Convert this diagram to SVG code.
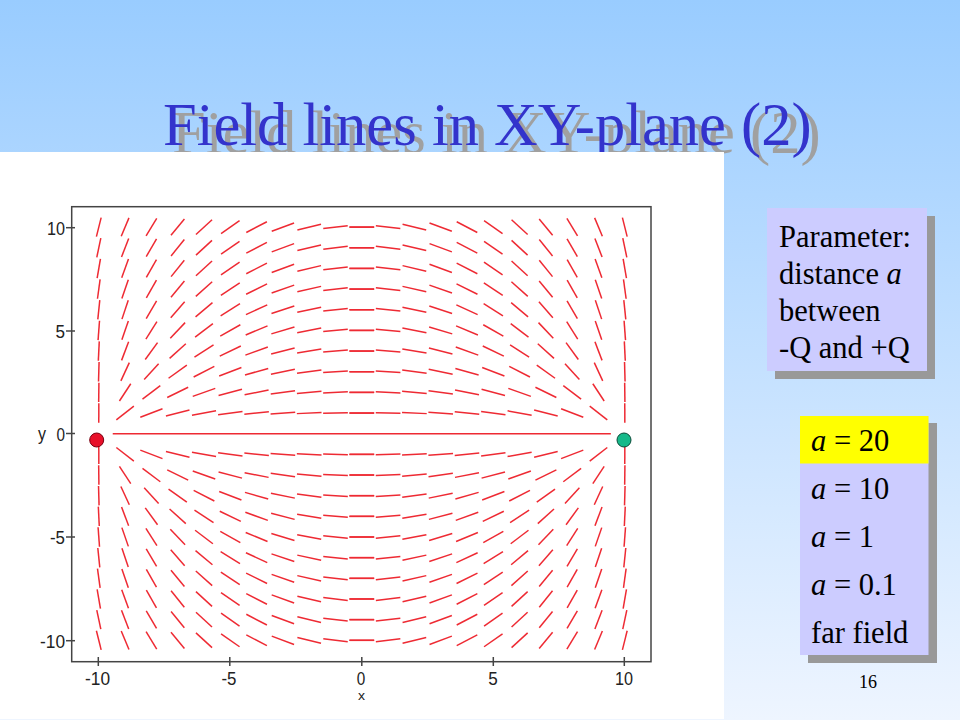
<svg xmlns="http://www.w3.org/2000/svg" xmlns:xlink="http://www.w3.org/1999/xlink" width="960" height="720" viewBox="0 0 960 720">
<style>
.s{stroke:#ee2a33;stroke-width:1.5;fill:none;vector-effect:non-scaling-stroke}
.tl{font-family:"Liberation Sans",Arial,sans-serif;font-size:19px;fill:#222}
.ser{font-family:"Liberation Serif","Times New Roman",serif;fill:#000}
.ax{stroke:#444;stroke-width:1.5;fill:none}
</style>
<defs>
<linearGradient id="bg" x1="0" y1="0" x2="0" y2="1">
<stop offset="0" stop-color="#99ccff"/>
<stop offset="1" stop-color="#eef5ff"/>
</linearGradient>
<line id="s" class="s" x1="-0.47" y1="0" x2="0.47" y2="0"/>
<g id="Q">
<use href="#s" transform="translate(0 1)"/><use href="#s" transform="translate(0 2)"/><use href="#s" transform="translate(0 3)"/><use href="#s" transform="translate(0 4)"/><use href="#s" transform="translate(0 5)"/><use href="#s" transform="translate(0 6)"/><use href="#s" transform="translate(0 7)"/><use href="#s" transform="translate(0 8)"/><use href="#s" transform="translate(0 9)"/><use href="#s" transform="translate(0 10)"/>
<use href="#s" transform="translate(1 1) rotate(-1.71)"/><use href="#s" transform="translate(1 2) rotate(-3.32)"/><use href="#s" transform="translate(1 3) rotate(-4.74)"/><use href="#s" transform="translate(1 4) rotate(-5.94)"/><use href="#s" transform="translate(1 5) rotate(-6.88)"/><use href="#s" transform="translate(1 6) rotate(-7.58)"/><use href="#s" transform="translate(1 7) rotate(-8.07)"/><use href="#s" transform="translate(1 8) rotate(-8.38)"/><use href="#s" transform="translate(1 9) rotate(-8.54)"/><use href="#s" transform="translate(1 10) rotate(-8.58)"/>
<use href="#s" transform="translate(2 1) rotate(-3.45)"/><use href="#s" transform="translate(2 2) rotate(-6.69)"/><use href="#s" transform="translate(2 3) rotate(-9.55)"/><use href="#s" transform="translate(2 4) rotate(-11.93)"/><use href="#s" transform="translate(2 5) rotate(-13.79)"/><use href="#s" transform="translate(2 6) rotate(-15.17)"/><use href="#s" transform="translate(2 7) rotate(-16.11)"/><use href="#s" transform="translate(2 8) rotate(-16.70)"/><use href="#s" transform="translate(2 9) rotate(-17.00)"/><use href="#s" transform="translate(2 10) rotate(-17.08)"/>
<use href="#s" transform="translate(3 1) rotate(-5.29)"/><use href="#s" transform="translate(3 2) rotate(-10.23)"/><use href="#s" transform="translate(3 3) rotate(-14.54)"/><use href="#s" transform="translate(3 4) rotate(-18.07)"/><use href="#s" transform="translate(3 5) rotate(-20.80)"/><use href="#s" transform="translate(3 6) rotate(-22.78)"/><use href="#s" transform="translate(3 7) rotate(-24.13)"/><use href="#s" transform="translate(3 8) rotate(-24.94)"/><use href="#s" transform="translate(3 9) rotate(-25.35)"/><use href="#s" transform="translate(3 10) rotate(-25.43)"/>
<use href="#s" transform="translate(4 1) rotate(-7.33)"/><use href="#s" transform="translate(4 2) rotate(-14.10)"/><use href="#s" transform="translate(4 3) rotate(-19.89)"/><use href="#s" transform="translate(4 4) rotate(-24.53)"/><use href="#s" transform="translate(4 5) rotate(-28.03)"/><use href="#s" transform="translate(4 6) rotate(-30.51)"/><use href="#s" transform="translate(4 7) rotate(-32.16)"/><use href="#s" transform="translate(4 8) rotate(-33.12)"/><use href="#s" transform="translate(4 9) rotate(-33.56)"/><use href="#s" transform="translate(4 10) rotate(-33.61)"/>
<use href="#s" transform="translate(5 1) rotate(-9.76)"/><use href="#s" transform="translate(5 2) rotate(-18.60)"/><use href="#s" transform="translate(5 3) rotate(-25.92)"/><use href="#s" transform="translate(5 4) rotate(-31.57)"/><use href="#s" transform="translate(5 5) rotate(-35.68)"/><use href="#s" transform="translate(5 6) rotate(-38.48)"/><use href="#s" transform="translate(5 7) rotate(-40.26)"/><use href="#s" transform="translate(5 8) rotate(-41.25)"/><use href="#s" transform="translate(5 9) rotate(-41.64)"/><use href="#s" transform="translate(5 10) rotate(-41.60)"/>
<use href="#s" transform="translate(6 1) rotate(-12.96)"/><use href="#s" transform="translate(6 2) rotate(-24.27)"/><use href="#s" transform="translate(6 3) rotate(-33.13)"/><use href="#s" transform="translate(6 4) rotate(-39.57)"/><use href="#s" transform="translate(6 5) rotate(-43.99)"/><use href="#s" transform="translate(6 6) rotate(-46.85)"/><use href="#s" transform="translate(6 7) rotate(-48.55)"/><use href="#s" transform="translate(6 8) rotate(-49.40)"/><use href="#s" transform="translate(6 9) rotate(-49.63)"/><use href="#s" transform="translate(6 10) rotate(-49.40)"/>
<use href="#s" transform="translate(7 1) rotate(-17.72)"/><use href="#s" transform="translate(7 2) rotate(-32.10)"/><use href="#s" transform="translate(7 3) rotate(-42.27)"/><use href="#s" transform="translate(7 4) rotate(-48.97)"/><use href="#s" transform="translate(7 5) rotate(-53.21)"/><use href="#s" transform="translate(7 6) rotate(-55.74)"/><use href="#s" transform="translate(7 7) rotate(-57.09)"/><use href="#s" transform="translate(7 8) rotate(-57.60)"/><use href="#s" transform="translate(7 9) rotate(-57.53)"/><use href="#s" transform="translate(7 10) rotate(-57.05)"/>
<use href="#s" transform="translate(8 1) rotate(-26.13)"/><use href="#s" transform="translate(8 2) rotate(-43.92)"/><use href="#s" transform="translate(8 3) rotate(-54.30)"/><use href="#s" transform="translate(8 4) rotate(-60.22)"/><use href="#s" transform="translate(8 5) rotate(-63.52)"/><use href="#s" transform="translate(8 6) rotate(-65.22)"/><use href="#s" transform="translate(8 7) rotate(-65.89)"/><use href="#s" transform="translate(8 8) rotate(-65.87)"/><use href="#s" transform="translate(8 9) rotate(-65.36)"/><use href="#s" transform="translate(8 10) rotate(-64.51)"/>
<use href="#s" transform="translate(9 1) rotate(-44.76)"/><use href="#s" transform="translate(9 2) rotate(-62.70)"/><use href="#s" transform="translate(9 3) rotate(-70.05)"/><use href="#s" transform="translate(9 4) rotate(-73.39)"/><use href="#s" transform="translate(9 5) rotate(-74.83)"/><use href="#s" transform="translate(9 6) rotate(-75.20)"/><use href="#s" transform="translate(9 7) rotate(-74.89)"/><use href="#s" transform="translate(9 8) rotate(-74.14)"/><use href="#s" transform="translate(9 9) rotate(-73.09)"/><use href="#s" transform="translate(9 10) rotate(-71.81)"/>
<use href="#s" transform="translate(10 1) rotate(-89.86)"/><use href="#s" transform="translate(10 2) rotate(-89.43)"/><use href="#s" transform="translate(10 3) rotate(-88.75)"/><use href="#s" transform="translate(10 4) rotate(-87.82)"/><use href="#s" transform="translate(10 5) rotate(-86.69)"/><use href="#s" transform="translate(10 6) rotate(-85.37)"/><use href="#s" transform="translate(10 7) rotate(-83.90)"/><use href="#s" transform="translate(10 8) rotate(-82.31)"/><use href="#s" transform="translate(10 9) rotate(-80.63)"/><use href="#s" transform="translate(10 10) rotate(-78.89)"/>
</g>
</defs>
<rect x="0" y="0" width="960" height="720" fill="url(#bg)"/>
<g id="title">
<text class="ser" x="172" y="153" font-size="60.5" style="fill:#a0a0a0">Field lines in XY-plane (2)</text>
<text class="ser" x="163" y="145" font-size="60.5" style="fill:#3333cc">Field lines in XY-plane (2)</text>
</g>
<g id="plot">
<rect x="0" y="152" width="724" height="567" fill="#ffffff"/>
<g id="field" transform="translate(361.8 433.7) scale(26.3 -20.66)">
<use href="#Q"/>
<use href="#Q" transform="scale(-1 1)"/>
<use href="#Q" transform="scale(1 -1)"/>
<use href="#Q" transform="scale(-1 -1)"/>
<line class="s" x1="-9.47" y1="0" x2="9.47" y2="0"/>
</g>
<rect class="ax" x="71.7" y="206.7" width="579.3" height="455"/>
<g class="ax" stroke-width="1.2">
<line x1="66" y1="227.7" x2="75" y2="227.7"/>
<line x1="66" y1="331" x2="75" y2="331"/>
<line x1="66" y1="433.5" x2="75" y2="433.5"/>
<line x1="66" y1="537" x2="75" y2="537"/>
<line x1="66" y1="640.7" x2="75" y2="640.7"/>
<line x1="98.3" y1="657" x2="98.3" y2="666"/>
<line x1="229.8" y1="657" x2="229.8" y2="666"/>
<line x1="361.8" y1="657" x2="361.8" y2="666"/>
<line x1="493.3" y1="657" x2="493.3" y2="666"/>
<line x1="624.3" y1="657" x2="624.3" y2="666"/>
</g>
<g class="tl">
<text x="65" y="234.7" text-anchor="end" textLength="18" lengthAdjust="spacingAndGlyphs">10</text>
<text x="65" y="338" text-anchor="end" textLength="9.5" lengthAdjust="spacingAndGlyphs">5</text>
<text x="65" y="440.5" text-anchor="end" textLength="8.5" lengthAdjust="spacingAndGlyphs">0</text>
<text x="38" y="440" textLength="8" lengthAdjust="spacingAndGlyphs">y</text>
<text x="65" y="544" text-anchor="end" textLength="15" lengthAdjust="spacingAndGlyphs">-5</text>
<text x="65" y="648" text-anchor="end" textLength="25" lengthAdjust="spacingAndGlyphs">-10</text>
<text x="97.5" y="685" text-anchor="middle" textLength="25" lengthAdjust="spacingAndGlyphs">-10</text>
<text x="229" y="685" text-anchor="middle" textLength="15" lengthAdjust="spacingAndGlyphs">-5</text>
<text x="361" y="685" text-anchor="middle" textLength="8.5" lengthAdjust="spacingAndGlyphs">0</text>
<text x="493" y="685" text-anchor="middle" textLength="9.5" lengthAdjust="spacingAndGlyphs">5</text>
<text x="624" y="685" text-anchor="middle" textLength="18" lengthAdjust="spacingAndGlyphs">10</text>
<text x="361.5" y="700" text-anchor="middle" font-size="12" textLength="7" lengthAdjust="spacingAndGlyphs">x</text>
</g>
<circle id="negQ" cx="96.7" cy="440" r="7" fill="#e8102a" stroke="#7a0010" stroke-width="1"/>
<circle id="posQ" cx="624" cy="440" r="7" fill="#16b98a" stroke="#0a4a38" stroke-width="1"/>
</g>
<g id="paramBox">
<rect x="775" y="216" width="160" height="163" fill="#999999"/>
<rect x="767" y="208" width="160" height="163" fill="#ccccff"/>
<g class="ser" font-size="30.5">
<text x="779" y="247">Parameter:</text>
<text x="779" y="284">distance <tspan font-style="italic">a</tspan></text>
<text x="779" y="321">between</text>
<text x="779" y="358">-Q and +Q</text>
</g>
</g>
<g id="valueBox">
<rect x="808" y="423" width="129" height="240" fill="#999999"/>
<rect x="800" y="416" width="128.5" height="239" fill="#ccccff"/>
<rect x="800" y="416" width="128.5" height="47.5" fill="#ffff00"/>
<g class="ser" font-size="30.5">
<text x="811" y="451"><tspan font-style="italic">a</tspan> = 20</text>
<text x="811" y="499"><tspan font-style="italic">a</tspan> = 10</text>
<text x="811" y="547"><tspan font-style="italic">a</tspan> = 1</text>
<text x="811" y="595"><tspan font-style="italic">a</tspan> = 0.1</text>
<text x="811" y="643">far field</text>
</g>
</g>
<text id="page" class="ser" x="868" y="688" font-size="18" text-anchor="middle">16</text>
</svg>
